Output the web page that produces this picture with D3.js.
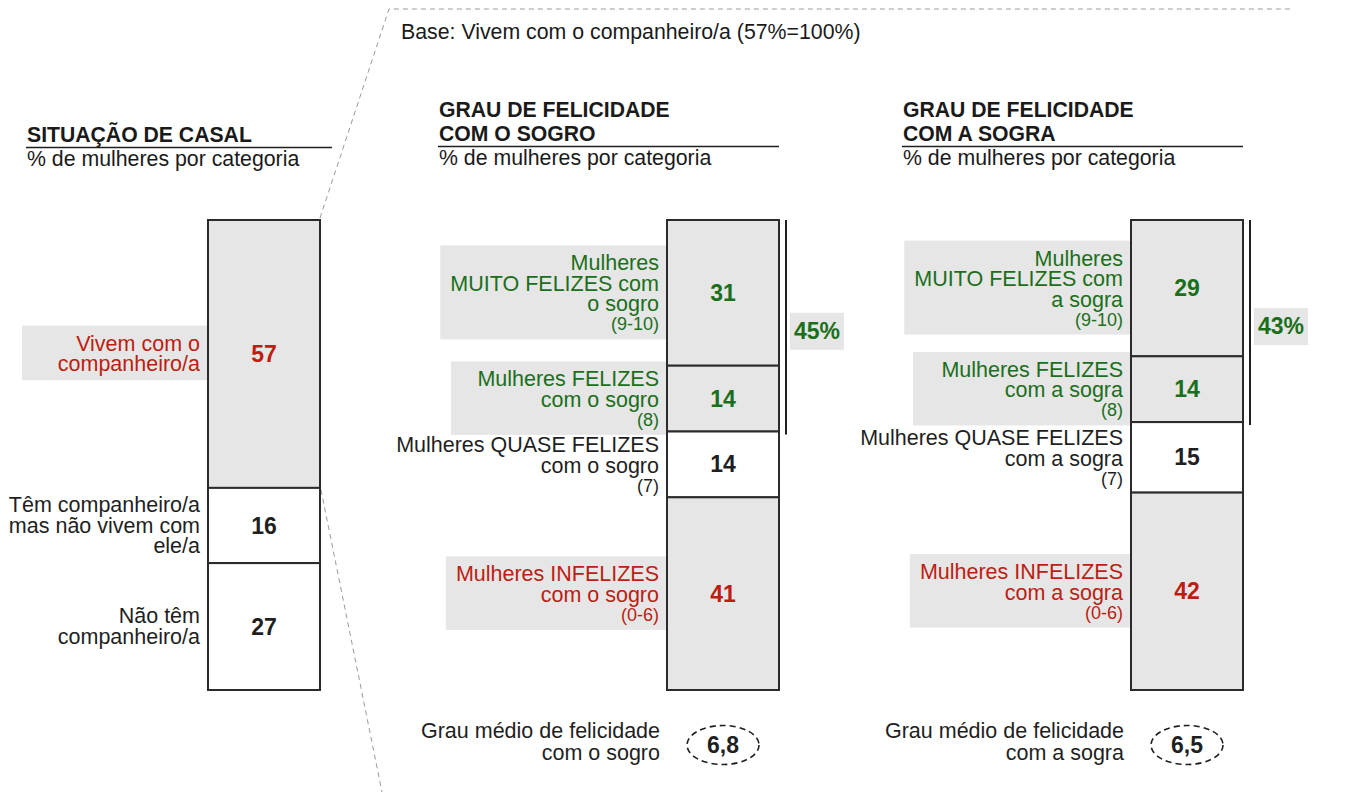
<!DOCTYPE html>
<html lang="pt">
<head>
<meta charset="UTF-8">
<title>Grau de felicidade com o sogro e a sogra</title>
<style>
    body { margin: 0; background: #fff; }
    svg { display: block; font-family: "Liberation Sans", Arial, sans-serif; }
    .lbl { font-size: 21.5px; }
    .nota { font-size: 18px; }
    .val { font-size: 23px; font-weight: bold; }
    .titulo { font-size: 21.2px; font-weight: bold; fill: #1a1a1a; }
    .sub { font-size: 21.3px; fill: #1a1a1a; }
</style>
<script src="https://cdn.jsdelivr.net/npm/d3@7"></script>
</head>
<body>
<script>
    // ---- data ----
    const casalCategorias = [
        ["Vivem com o", "companheiro/a"],
        ["Têm companheiro/a", "mas não vivem com", "ele/a"],
        ["Não têm", "companheiro/a"]
    ];
    const casalValores = [57, 16, 27];

    const sogroCategorias = [
        ["Mulheres", "MUITO FELIZES com", "o sogro"],
        ["Mulheres FELIZES", "com o sogro"],
        ["Mulheres QUASE FELIZES", "com o sogro"],
        ["Mulheres INFELIZES", "com o sogro"]
    ];
    const sogroValores = [31, 14, 14, 41];

    const sograCategorias = [
        ["Mulheres", "MUITO FELIZES com", "a sogra"],
        ["Mulheres FELIZES", "com a sogra"],
        ["Mulheres QUASE FELIZES", "com a sogra"],
        ["Mulheres INFELIZES", "com a sogra"]
    ];
    const sograValores = [29, 14, 15, 42];

    const escalaNotas = ["(9-10)", "(8)", "(7)", "(0-6)"];
    const felizesTotais = ["45%", "43%"];
    const grauMedioTexto = [["Grau médio de felicidade", "com o sogro"], ["Grau médio de felicidade", "com a sogra"]];
    const grauMedio = ["6,8", "6,5"];

    const titulos = [["SITUAÇÃO DE CASAL"], ["GRAU DE FELICIDADE", "COM O SOGRO"], ["GRAU DE FELICIDADE", "COM A SOGRA"]];
    const subtitulo = "% de mulheres por categoria";
    const baseTexto = "Base: Vivem com o companheiro/a (57%=100%)";

    // ---- layout / style ----
    const width = 1345, height = 792;
    const barW = 112, LH = 20.5;
    const cinza = "#e5e6e5", verde = "#1b6f1b", vermelho = "#bd1d12", escuro = "#1f1f1f";
    const toneColor = {good: verde, bad: vermelho, neutral: escuro};

    const svg = d3.select("body").append("svg")
        .attr("width", width).attr("height", height)
        .attr("viewBox", `0,0,${width},${height}`);

    const y = d3.scaleLinear().domain([0, 100]).range([220, 690]);

    // dashed connector lines (drawn first, behind)
    const conn = svg.append("g").attr("fill", "none").attr("stroke", "#9a9a9a")
        .attr("stroke-width", 1).attr("stroke-dasharray", "5,4");
    conn.append("path").attr("d", `M320,${y(0) - 2}L389,9L1292,9`);
    conn.append("path").attr("d", `M321,${y(casalValores[0]) + 2}L382,792`);

    svg.append("text").attr("class", "sub").attr("x", 401).attr("y", 39).text(baseTexto);

    function drawTitle(x, lines, lineW, lastBase) {
        const g = svg.append("g");
        lines.forEach((l, i) => {
            g.append("text").attr("class", "titulo")
                .attr("x", x).attr("y", lastBase - (lines.length - 1 - i) * 24.5).text(l);
        });
        g.append("line").attr("x1", x - 1).attr("x2", x - 1 + lineW)
            .attr("y1", lastBase + 5.5).attr("y2", lastBase + 5.5)
            .attr("stroke", escuro).attr("stroke-width", 1.6);
        g.append("text").attr("class", "sub").attr("x", x).attr("y", lastBase + 24).text(subtitulo);
    }

    function drawBar(cfg) {
        const g = svg.append("g");
        const ends = d3.cumsum(cfg.valores);
        const segs = cfg.valores.map((v, i) => ({
            v, y0: ends[i] - v, y1: ends[i],
            lines: cfg.categorias[i],
            nota: cfg.notas ? cfg.notas[i] : null,
            tone: cfg.tones[i], fill: cfg.fills[i]
        }));

        // labels with grey backgrounds
        segs.forEach(d => {
            const mid = (y(d.y0) + y(d.y1)) / 2;
            const n = d.lines.length;
            const first = mid - (n - 1) * LH / 2 - (d.nota ? 9 : 0) + 7;
            let last = first + (n - 1) * LH;
            const lg = g.append("g");
            const bg = lg.append("rect").attr("fill", cinza);
            const t = lg.append("text").attr("class", "lbl")
                .attr("text-anchor", "end").attr("fill", toneColor[d.tone]);
            d.lines.forEach((l, k) => {
                t.append("tspan").attr("x", cfg.x - 8).attr("y", first + k * LH).text(l);
            });
            if (d.nota) {
                last += 19;
                t.append("tspan").attr("class", "nota").attr("x", cfg.x - 8).attr("y", last).text(d.nota);
            }
            if (d.tone !== "neutral") {
                const bb = t.node().getBBox();
                const w = Math.max(bb.width + 18, cfg.bgMin);
                bg.attr("x", cfg.x - w).attr("width", w)
                    .attr("y", first - 25).attr("height", last + 9 - (first - 25));
            } else {
                bg.remove();
            }
        });

        g.selectAll("rect.seg").data(segs).join("rect").attr("class", "seg")
            .attr("x", cfg.x).attr("y", d => y(d.y0))
            .attr("width", barW).attr("height", d => y(d.y1) - y(d.y0))
            .attr("fill", d => d.fill).attr("stroke", "#2b2b2b").attr("stroke-width", 2);

        g.selectAll("text.val").data(segs).join("text").attr("class", "val")
            .attr("x", cfg.x + barW / 2).attr("y", d => (y(d.y0) + y(d.y1)) / 2 + 8)
            .attr("text-anchor", "middle").attr("fill", d => toneColor[d.tone])
            .text(d => d.v);

        if (cfg.total) {
            // bracket around the happy segments
            const lx = cfg.x + barW + 7;
            const yb = y(ends[1]) + 3;
            g.append("line").attr("x1", lx).attr("x2", lx).attr("y1", y(0)).attr("y2", yb)
                .attr("stroke", escuro).attr("stroke-width", 2);
            const cy = (y(0) + yb) / 2 + 4;
            g.append("rect").attr("x", lx + 31 - 27).attr("y", cy - 18.5)
                .attr("width", 54).attr("height", 37).attr("fill", cinza);
            g.append("text").attr("class", "val").attr("font-size", 21)
                .attr("x", lx + 31).attr("y", cy + 7.5).attr("text-anchor", "middle")
                .attr("fill", verde).text(cfg.total);
        }

        if (cfg.media) {
            const cx = cfg.x + barW / 2, cy = 745;
            const mt = g.append("text").attr("class", "lbl").attr("text-anchor", "end").attr("fill", escuro);
            cfg.mediaTexto.forEach((l, k) => {
                mt.append("tspan").attr("x", cfg.x - 7).attr("y", 738 + k * 22).text(l);
            });
            g.append("ellipse").attr("cx", cx).attr("cy", cy).attr("rx", 36).attr("ry", 19.5)
                .attr("fill", "none").attr("stroke", escuro).attr("stroke-width", 1.6)
                .attr("stroke-dasharray", "6,4");
            g.append("text").attr("class", "val").attr("x", cx).attr("y", cy + 8)
                .attr("text-anchor", "middle").attr("fill", escuro).text(cfg.media);
        }
    }

    drawTitle(27, titulos[0], 306, 142);
    drawTitle(439, titulos[1], 341, 141);
    drawTitle(903, titulos[2], 341, 141);

    drawBar({
        x: 208, categorias: casalCategorias, valores: casalValores,
        tones: ["bad", "neutral", "neutral"], fills: [cinza, "#fff", "#fff"], bgMin: 186
    });
    drawBar({
        x: 667, categorias: sogroCategorias, valores: sogroValores, notas: escalaNotas,
        tones: ["good", "good", "neutral", "bad"], fills: [cinza, cinza, "#fff", cinza], bgMin: 216,
        total: felizesTotais[0], media: grauMedio[0], mediaTexto: grauMedioTexto[0]
    });
    drawBar({
        x: 1131, categorias: sograCategorias, valores: sograValores, notas: escalaNotas,
        tones: ["good", "good", "neutral", "bad"], fills: [cinza, cinza, "#fff", cinza], bgMin: 218,
        total: felizesTotais[1], media: grauMedio[1], mediaTexto: grauMedioTexto[1]
    });
</script>
</body>
</html>
